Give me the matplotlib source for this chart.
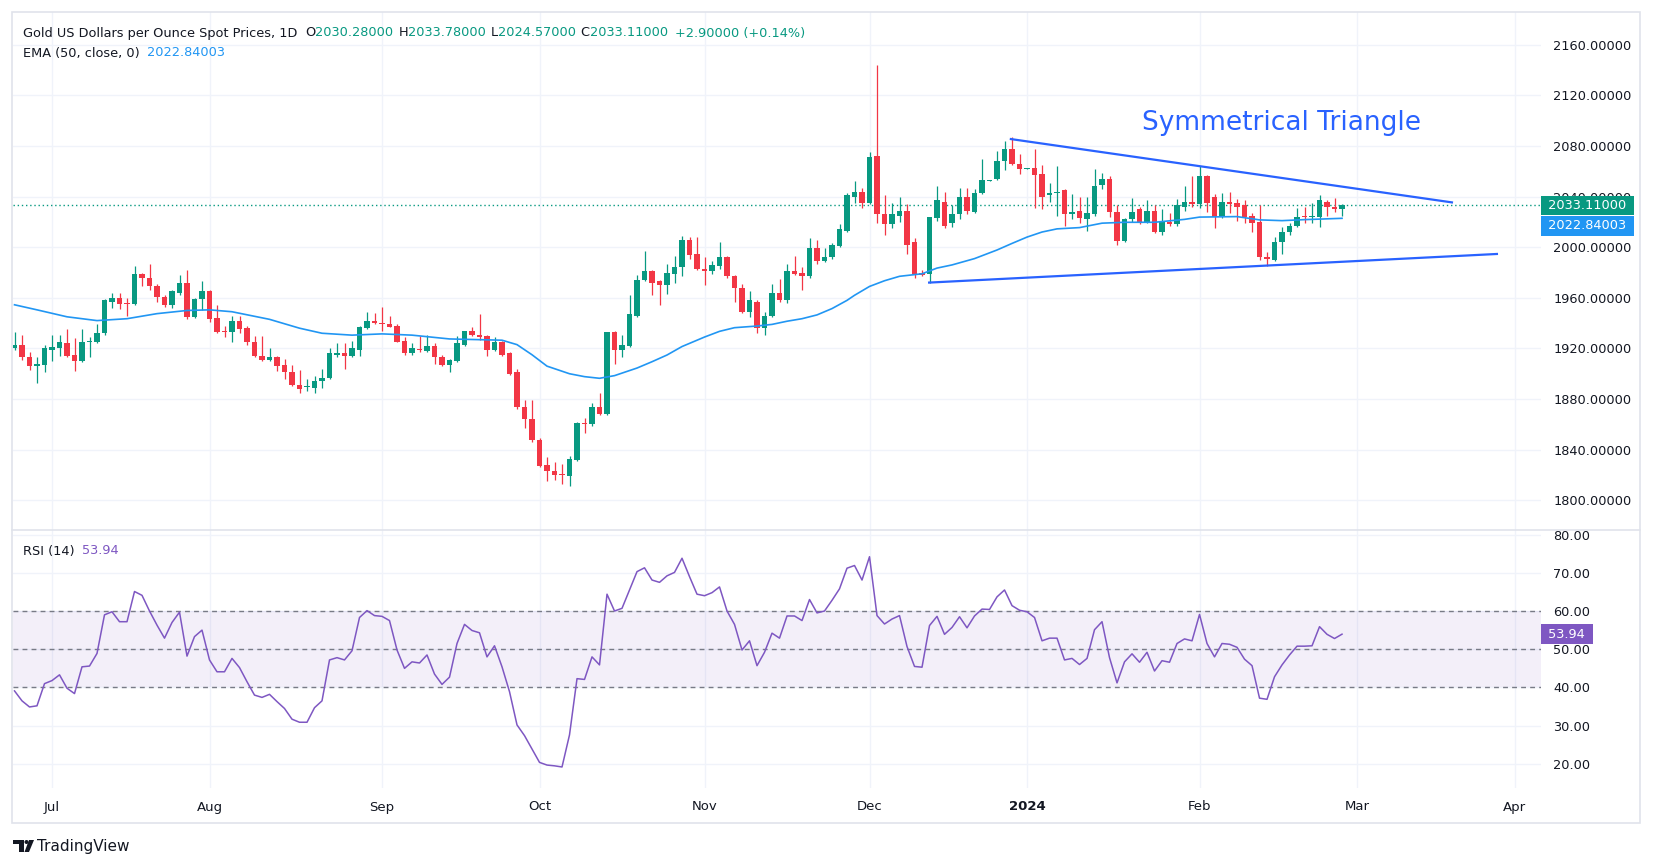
import matplotlib
matplotlib.use('Agg')
import matplotlib.pyplot as plt
import matplotlib.transforms as mtransforms
from matplotlib.patches import Rectangle, Polygon, Circle
import numpy as np
import pandas as pd

plt.rcParams['font.family'] = ['DejaVu Sans']

# daily bars, 26 Jun 2023 .. 28 Feb 2024 (one row of the list = ~ two weeks)
open_ = [1920, 1923, 1913, 1906, 1907, 1919, 1920, 1924, 1915, 1910,
         1925, 1925, 1932, 1957, 1960, 1955.5, 1955, 1979, 1976, 1969,
         1961, 1954, 1964, 1972, 1945, 1959, 1965, 1944, 1934, 1933,
         1942, 1936, 1925, 1914, 1911, 1913, 1907, 1901, 1891, 1889.5,
         1889, 1894, 1897, 1915, 1916, 1914, 1919, 1936, 1942, 1940,
         1939, 1938, 1926, 1916, 1919.5, 1918, 1922, 1913, 1907, 1910,
         1923, 1934, 1931, 1930, 1919, 1925, 1916, 1901, 1874, 1864,
         1848, 1828, 1823, 1821, 1819, 1832, 1861, 1860, 1874, 1868,
         1933, 1919, 1922, 1946, 1974, 1981, 1973, 1970, 1979, 1984,
         2006, 1995, 1983, 1981, 1985, 1992, 1977, 1968, 1949, 1957,
         1936, 1946, 1964, 1958, 1981, 1980, 1977, 1999, 1989, 1992,
         2001, 2013, 2040, 2044, 2035, 2072, 2026, 2018, 2025, 2029,
         2004, 1980, 1979, 2023, 2036, 2019, 2026, 2040, 2028, 2043,
         2052.4, 2054, 2068, 2078, 2066, 2061.8, 2063, 2058, 2041, 2043.2,
         2045, 2026, 2029, 2022, 2026, 2049, 2054, 2028, 2005, 2022,
         2030, 2019, 2029, 2012, 2020, 2018, 2032, 2036, 2034, 2056,
         2040, 2024, 2036, 2035, 2033, 2025, 2020, 1992, 1990, 2004,
         2012, 2017, 2024.7, 2024.2, 2024, 2036, 2032, 2030.28]
high = [1933, 1931, 1917, 1913, 1923, 1931, 1931, 1935, 1928, 1935,
        1929, 1939, 1959, 1964, 1964, 1960, 1985, 1980, 1987, 1971,
        1962, 1966, 1978, 1982, 1960, 1973, 1966, 1954, 1938, 1946,
        1946, 1938, 1930, 1930, 1920, 1914, 1912, 1907, 1903, 1896,
        1898, 1904, 1920, 1924, 1924, 1926, 1938, 1949, 1948, 1953,
        1946, 1939, 1929, 1924, 1930, 1931, 1924, 1915, 1912, 1930,
        1934, 1937, 1947, 1931, 1929, 1926, 1917, 1904, 1879, 1879,
        1849, 1834, 1830, 1829, 1835, 1862, 1865, 1877, 1885, 1933,
        1934, 1931, 1962, 1978, 1997, 1982, 1974, 1987, 1993, 2009,
        2008, 2008, 1992, 1989, 2004, 1993, 1978, 1971, 1965, 1958,
        1949, 1971, 1975, 1987, 1993, 1984, 2007, 2006, 1999, 2003,
        2018, 2043, 2052, 2047, 2075, 2144, 2041, 2035, 2040, 2034,
        2007, 1982, 2024, 2048, 2044, 2033, 2047, 2047, 2046, 2070,
        2053.4, 2076, 2084, 2087, 2074, 2062.4, 2078, 2065, 2051, 2064,
        2046, 2042, 2040, 2040, 2062, 2059, 2056, 2033, 2023, 2039,
        2032, 2037, 2033, 2030, 2027, 2038, 2048, 2056, 2064, 2057,
        2042, 2043, 2044, 2038, 2037, 2027, 2033, 1996, 2008, 2016,
        2019, 2031, 2032, 2035, 2041, 2037, 2039, 2033.78]
low = [1919, 1911, 1903, 1893, 1901, 1910, 1914, 1913, 1902, 1909,
       1913, 1924, 1931, 1952, 1951, 1946, 1954, 1969, 1966, 1957,
       1953, 1952, 1962, 1943, 1944, 1950, 1941, 1932, 1929, 1925,
       1932, 1923, 1913, 1910, 1910, 1902, 1896, 1890, 1885, 1886,
       1885, 1889, 1896, 1913, 1904, 1913, 1914, 1935, 1939, 1934,
       1937, 1925, 1915, 1915, 1917, 1917, 1908, 1906, 1901, 1909,
       1922, 1930, 1927, 1914, 1918, 1914, 1899, 1872, 1857, 1846,
       1826, 1815, 1816, 1813, 1811, 1831, 1853, 1859, 1867, 1867,
       1908, 1913, 1921, 1945, 1973, 1962, 1954, 1963, 1972, 1977,
       1991, 1982, 1970, 1979, 1983, 1976, 1957, 1948, 1945, 1932,
       1931, 1945, 1957, 1956, 1978, 1966, 1976, 1987, 1988, 1991,
       2000, 2012, 2035, 2031, 2034, 2019, 2010, 2015, 2020, 1995,
       1976, 1977, 1972, 2021, 2015, 2016, 2022, 2026, 2027, 2042,
       2052, 2053, 2061, 2065, 2058, 2061.5, 2031, 2030, 2036, 2025,
       2017, 2022, 2019, 2013, 2025, 2046, 2024, 2002, 2004, 2020,
       2018, 2019, 2011, 2010, 2017, 2017, 2029, 2032, 2031, 2028,
       2015, 2023, 2027, 2021, 2019, 2012, 1990, 1985, 1989, 1995,
       2010, 2016, 2019, 2019, 2016, 2025, 2028, 2024.57]
close = [1923, 1913, 1906, 1908, 1920, 1921, 1925, 1914, 1910, 1925,
         1925.5, 1932, 1958, 1960, 1955, 1955, 1979, 1976, 1969, 1961,
         1954, 1965, 1972, 1945, 1959, 1965, 1943, 1933, 1933, 1942,
         1935, 1925, 1914, 1911, 1913, 1906, 1901, 1891, 1888, 1890,
         1894, 1897, 1916, 1916, 1914, 1920, 1937, 1942, 1940, 1939.5,
         1937, 1925, 1916, 1920, 1919, 1922, 1913, 1907, 1911, 1924,
         1934, 1931, 1929, 1919, 1925, 1915, 1900, 1874, 1864, 1848,
         1827, 1823, 1820, 1820, 1833, 1861, 1860, 1874, 1868, 1933,
         1919, 1923, 1947, 1974, 1981, 1972, 1970, 1980, 1984, 2006,
         1994, 1983, 1981, 1986, 1992, 1977, 1968, 1949, 1958, 1936,
         1946, 1964, 1958, 1981, 1979, 1977, 1999, 1989, 1992, 2002,
         2014, 2041, 2044, 2035, 2071, 2026, 2018, 2026, 2029, 2002,
         1979, 1978, 2024, 2037, 2017, 2026, 2040, 2029, 2043, 2053,
         2052.9, 2068, 2078, 2066, 2062, 2062.2, 2057, 2040, 2043, 2043.6,
         2026, 2028, 2023, 2027, 2048, 2054, 2028, 2005, 2022, 2028,
         2019, 2029, 2012, 2020, 2018, 2033, 2036, 2034, 2056, 2035,
         2024, 2036, 2034, 2032, 2024, 2019, 1992, 1990.5, 2004, 2012,
         2017, 2024, 2024.2, 2024.7, 2037, 2032, 2030, 2033.11]

rsi = [39.1, 36.5, 34.9, 35.2, 41.0, 41.8, 43.3, 39.8, 38.4, 45.4,
       45.6, 48.9, 59.0, 59.8, 57.2, 57.2, 65.1, 64.1, 60.0, 56.3,
       52.9, 57.0, 59.7, 48.2, 53.3, 55.0, 47.2, 44.1, 44.1, 47.6,
       45.2, 41.5, 38.0, 37.4, 38.2, 36.3, 34.5, 31.7, 30.9, 30.9,
       34.7, 36.5, 47.2, 47.8, 47.2, 49.6, 58.3, 60.1, 58.8, 58.6,
       57.5, 49.8, 45.0, 46.7, 46.4, 48.5, 43.5, 40.8, 42.7, 51.5,
       56.5, 54.9, 54.3, 48.0, 50.9, 45.4, 38.9, 30.2, 27.4, 23.9,
       20.4, 19.7, 19.5, 19.2, 27.6, 42.3, 42.1, 48.0, 45.9, 64.4,
       60.0, 60.7, 65.5, 70.3, 71.3, 68.1, 67.5, 69.2, 70.1, 73.8,
       69.0, 64.4, 64.0, 64.8, 66.3, 60.0, 56.5, 49.8, 52.2, 45.7,
       49.2, 54.2, 52.9, 58.7, 58.7, 57.5, 63.0, 59.5, 60.0, 62.8,
       65.8, 71.2, 71.9, 68.1, 74.2, 58.8, 56.6, 57.9, 58.8, 50.7,
       45.5, 45.3, 56.2, 58.6, 53.9, 55.7, 58.5, 55.6, 58.7, 60.5,
       60.4, 63.7, 65.5, 61.4, 60.2, 59.8, 58.3, 52.2, 52.9, 52.9,
       47.2, 47.6, 46.0, 47.6, 55.1, 57.2, 47.8, 41.2, 46.7, 48.8,
       46.6, 49.2, 44.3, 47.0, 46.6, 51.5, 52.7, 52.2, 59.1, 51.5,
       48.0, 51.5, 51.3, 50.5, 47.4, 45.7, 37.2, 36.9, 42.8, 45.9,
       48.5, 50.8, 50.8, 50.9, 55.9, 53.9, 52.8, 53.94]

# EMA(50) at these bars
ema_bar = [0, 3, 7, 11, 15, 19, 23, 26, 29, 34, 38, 41, 45, 49, 53, 58, 65, 67,
           69, 71, 74, 76, 78, 80, 83, 85, 87, 89, 92, 94, 96, 99, 101, 103, 105,
           107, 109, 111, 112, 114, 116, 118, 121, 123, 125, 128, 131, 133, 135,
           137, 139, 142, 145, 148, 152, 156, 158, 163, 166, 169, 172, 177]
ema_val = [1954.5, 1950.5, 1945, 1942, 1943.5, 1947.5, 1950, 1950.5, 1949, 1943,
           1936, 1932, 1930.5, 1931.5, 1930.5, 1927.5, 1926.5, 1923, 1915, 1906,
           1900, 1897.7, 1896.4, 1898.5, 1904.5, 1909.5, 1914.8, 1921.5, 1929,
           1933.5, 1936.4, 1937.7, 1939, 1941.5, 1943.5, 1946.5, 1951.5, 1958,
           1962, 1969, 1973.5, 1977, 1979, 1983.5, 1986, 1991, 1997.8, 2003, 2008,
           2012, 2014.5, 2015.5, 2019, 2019.7, 2019.7, 2022, 2023.8, 2024.2,
           2021.6, 2021, 2021.8, 2022.84003]

# triangle drawing: (bar, price) end points
upper_bar = [132.7, 191.8]
upper_px = [2085.6, 2035.3]
lower_bar = [121.8, 197.8]
lower_px = [1972.0, 1994.7]

UP = '#089981'
DOWN = '#f23645'
TXT = '#131722'
GRID = '#f0f3fa'
BLUE = '#2196f3'
LINE = '#2962ff'
PURPLE = '#7e57c2'

W, H = 1654, 868
fig = plt.figure(figsize=(W / 100, H / 100), dpi=100)
fig.patch.set_facecolor('white')


def px_axes(left, top, right, bottom):
    return fig.add_axes([left / W, 1 - bottom / H, (right - left) / W, (bottom - top) / H])


ax = px_axes(13, 12, 1541, 530)
ax2 = px_axes(13, 530, 1541, 788)

o = np.array(open_)
h = np.array(high)
l = np.array(low)
c = np.array(close)
x = np.arange(len(c))

cal = pd.bdate_range('2023-06-26', '2024-04-05')
month_pos = [i for i in range(1, len(cal)) if cal[i].month != cal[i - 1].month]
month_lab = ['2024' if cal[i].month == 1 else cal[i].strftime('%b') for i in month_pos]

# ---- price pane
cols = np.where(c >= o, UP, DOWN)
ax.vlines(x, l, h, colors=cols, lw=0.9, zorder=3)
ax.bar(x, np.maximum(np.abs(c - o), 0.8), bottom=np.minimum(o, c), width=0.7,
       color=cols, linewidth=0, zorder=4)
ax.plot(ema_bar, ema_val, color=BLUE, lw=1.2, zorder=5)
ax.axhline(c[-1], color=UP, lw=1, ls=(0, (1, 2)), zorder=2)
ax.plot(upper_bar, upper_px, color=LINE, lw=1.6, zorder=6, solid_capstyle='butt')
ax.plot(lower_bar, lower_px, color=LINE, lw=1.6, zorder=6, solid_capstyle='butt')
ax.text(150.3, 2098, 'Symmetrical Triangle', color=LINE, fontsize=19, va='center', ha='left')

ax.set_xlim(-0.2, 203.53)
ax.set_ylim(1776.5, 2185.9)
pticks = np.arange(1800, 2161, 40)
ax.set_yticks(pticks)
ax.set_yticklabels([f'{v:.5f}' for v in pticks])
ax.yaxis.tick_right()
ax.tick_params(axis='y', length=0, pad=9, labelsize=9.3, labelcolor=TXT)
ax.set_xticks(month_pos)
ax.tick_params(axis='x', length=0, labelbottom=False)
ax.grid(True, color=GRID, lw=1)
ax.set_axisbelow(True)

tr = mtransforms.blended_transform_factory(ax.transAxes, ax.transData)
ax.text(1.0, c[-1], f' {c[-1]:.5f} ', transform=mtransforms.offset_copy(tr, fig=fig, x=3.5, units='dots'),
        ha='left', va='center', color='white', fontsize=9.3, zorder=10, clip_on=False,
        bbox=dict(boxstyle='square,pad=0.25', fc=UP, ec='none'))
ax.text(1.0, c[-1], f' {ema_val[-1]:.5f} ',
        transform=mtransforms.offset_copy(tr, fig=fig, x=3.5, y=-20.5, units='dots'),
        ha='left', va='center', color='white', fontsize=9.3, zorder=10, clip_on=False,
        bbox=dict(boxstyle='square,pad=0.25', fc=BLUE, ec='none'))

# ---- RSI pane
ax2.axhspan(40, 60, color=PURPLE, alpha=0.09, lw=0)
for lvl in (60, 50, 40):
    ax2.axhline(lvl, color='#787b86', lw=1, ls=(0, (3.5, 3)))
ax2.plot(x, rsi, color=PURPLE, lw=1.1, zorder=5)
ax2.set_xlim(-0.2, 203.53)
ax2.set_ylim(13.70, 81.19)
rticks = np.arange(20, 81, 10)
ax2.set_yticks(rticks)
ax2.set_yticklabels([f'{v:.2f}' for v in rticks])
ax2.yaxis.tick_right()
ax2.tick_params(axis='y', length=0, pad=9, labelsize=9.3, labelcolor=TXT)
ax2.set_xticks(month_pos)
ax2.set_xticklabels(month_lab)
ax2.tick_params(axis='x', length=0, pad=9, labelsize=9.5, labelcolor=TXT)
for t in ax2.get_xticklabels():
    if t.get_text() == '2024':
        t.set_fontweight('bold')
ax2.grid(True, color=GRID, lw=1)
ax2.set_axisbelow(True)
tr2 = mtransforms.blended_transform_factory(ax2.transAxes, ax2.transData)
ax2.text(1.0, rsi[-1], f' {rsi[-1]:.2f} ', transform=mtransforms.offset_copy(tr2, fig=fig, x=3.5, units='dots'),
         ha='left', va='center', color='white', fontsize=9.3, zorder=10, clip_on=False,
         bbox=dict(boxstyle='square,pad=0.25', fc=PURPLE, ec='none'))

for a in (ax, ax2):
    for s in a.spines.values():
        s.set_visible(False)

# frame and pane separator
fig.add_artist(Rectangle((12 / W, 1 - 823 / H), 1628 / W, 811 / H, transform=fig.transFigure,
                         fill=False, ec='#e0e3eb', lw=1.2))
fig.add_artist(plt.Line2D([12 / W, 1640 / W], [1 - 530 / H] * 2, transform=fig.transFigure,
                          color='#e0e3eb', lw=1.2))


def chain(a, x_px, y_px, parts, size):
    t = a.annotate(parts[0][0], xy=(x_px, H - y_px), xycoords='figure pixels',
                   color=parts[0][1], fontsize=size, va='center', ha='left')
    for s, col, gap in parts[1:]:
        t = a.annotate(s, xy=(1, 0.5), xycoords=t, xytext=(gap, 0), textcoords='offset points',
                       color=col, fontsize=size, va='center', ha='left')


chain(ax, 23, 33, [('Gold US Dollars per Ounce Spot Prices, 1D', TXT),
                   ('O', TXT, 5.5), (f'{o[-1]:.5f}', UP, 0),
                   ('H', TXT, 3.5), (f'{h[-1]:.5f}', UP, 0),
                   ('L', TXT, 3.5), (f'{l[-1]:.5f}', UP, 0),
                   ('C', TXT, 3.5), (f'{c[-1]:.5f}', UP, 0),
                   ('+2.90000 (+0.14%)', UP, 5.5)], 9.3)
chain(ax, 23, 53, [('EMA (50, close, 0)', TXT), (f'{ema_val[-1]:.5f}', BLUE, 5)], 9.3)
chain(ax2, 23, 551, [('RSI (14)', TXT), (f'{rsi[-1]:.2f}', PURPLE, 5)], 9.3)

# TradingView mark
fig.add_artist(Polygon([(13, H - 840), (24, H - 840), (24, H - 852), (19, H - 852), (19, H - 844), (13, H - 844)],
                       closed=True, transform=None, fc=TXT, ec='none'))
fig.add_artist(Circle((26.5, H - 842), 2.0, transform=None, fc=TXT, ec='none'))
fig.add_artist(Polygon([(29, H - 840), (34, H - 840), (29, H - 852), (24.5, H - 852)],
                       closed=True, transform=None, fc=TXT, ec='none'))
fig.text(37 / W, 1 - 846 / H, 'TradingView', fontsize=11, color=TXT, va='center', ha='left')

fig.savefig('out.png', dpi=100, facecolor='white')
